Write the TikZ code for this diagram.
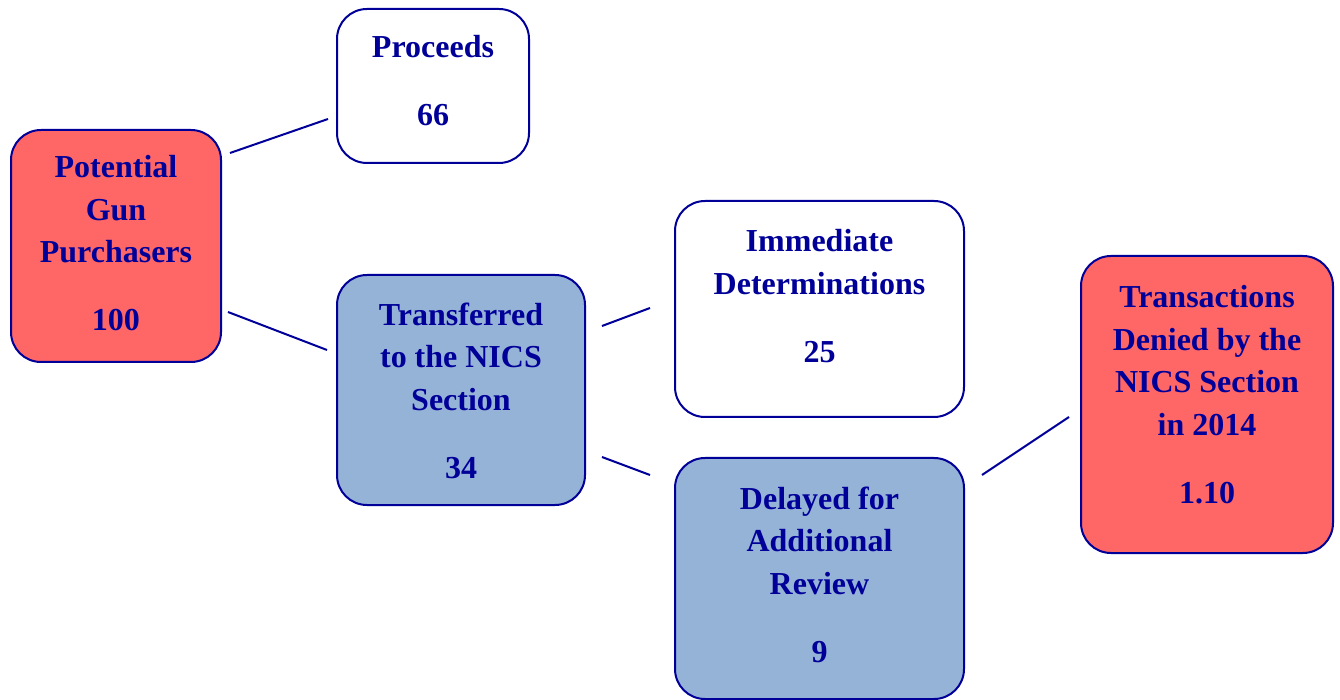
\documentclass[tikz,border=0pt]{standalone}
\usepackage{fontspec}
\setmainfont{Liberation Serif}
\usetikzlibrary{calc}
\definecolor{navy}{RGB}{0,0,153}
\definecolor{redfill}{RGB}{255,102,102}
\definecolor{bluefill}{RGB}{149,179,215}
\tikzset{
  box/.style={draw=navy, line width=1pt, rounded corners=15pt, inner sep=0pt},
  redbox/.style={box, fill=redfill},
  bluebox/.style={box, fill=bluefill},
  whitebox/.style={box, fill=white},
  label/.style={text=navy, align=center, inner sep=0pt, font=\fontsize{16}{21.25}\selectfont\bfseries},
  conn/.style={draw=navy, line width=1pt}
}
\begin{document}
\begin{tikzpicture}[x=0.5pt, y=-0.5pt]
\useasboundingbox (0,0) rectangle (1340,700);
% boxes
\node[redbox, minimum width=105pt, minimum height=116pt] (pot) at (116,246) {};
\node[whitebox, minimum width=96pt, minimum height=77pt] (proc) at (433,86) {};
\node[bluebox, minimum width=124pt, minimum height=115pt] (trans) at (461,390) {};
\node[whitebox, minimum width=144.5pt, minimum height=108pt] (imm) at (819.5,309) {};
\node[bluebox, minimum width=144.5pt, minimum height=120.5pt] (del) at (819.5,578.5) {};
\node[redbox, minimum width=126pt, minimum height=148.5pt] (trn) at (1207,404.5) {};
% texts
\node[label] (potT) at (116,243.5) {Potential\\Gun\\Purchasers\\[12.75pt]100};
\node[label] (procT) at (433,80.5) {Proceeds\\[12.75pt]66};
\node[label] (transT) at (461,390.5) {Transferred\\to the NICS\\Section\\[12.75pt]34};
\node[label] (immT) at (819.5,296) {Immediate\\Determinations\\[12.75pt]25};
\node[label] (delT) at (819.5,574.5) {Delayed for\\Additional\\Review\\[12.75pt]9};
\node[label] (trnT) at (1207,394.5) {Transactions\\Denied by the\\NICS Section\\in 2014\\[12.75pt]1.10};
% connector ends
\coordinate (c1a) at (230,153); \coordinate (c1b) at (328,119);
\coordinate (c2a) at (228,312); \coordinate (c2b) at (327,350);
\coordinate (c3a) at (602,326); \coordinate (c3b) at (650,308);
\coordinate (c4a) at (602,457); \coordinate (c4b) at (650,475);
\coordinate (c5a) at (982,475); \coordinate (c5b) at (1069,417);
\draw[conn] (c1a) -- (c1b);
\draw[conn] (c2a) -- (c2b);
\draw[conn] (c3a) -- (c3b);
\draw[conn] (c4a) -- (c4b);
\draw[conn] (c5a) -- (c5b);
\end{tikzpicture}
\end{document}
